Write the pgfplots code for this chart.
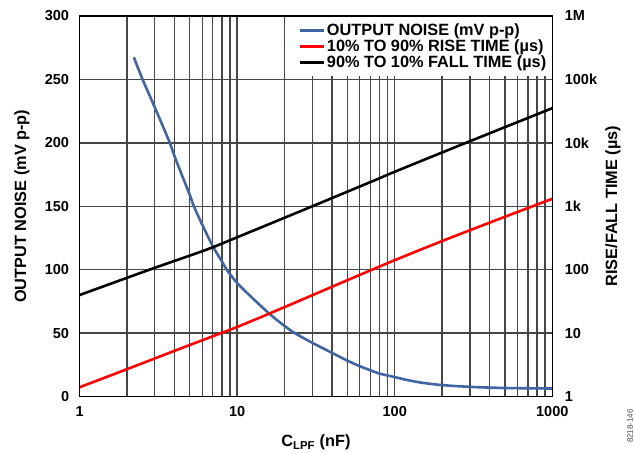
\documentclass[border=0pt]{standalone}
\usepackage{pgfplots}
\pgfplotsset{compat=1.18}
\usepackage{fontspec}
\setmainfont{Liberation Sans}
\definecolor{nblue}{RGB}{63,101,163}
\definecolor{gridc}{RGB}{70,70,70}
\begin{document}
\begin{tikzpicture}
\begin{axis}[
  name=main, scale only axis, width=472.7pt, height=380.5pt,
  xmode=log, xmin=1, xmax=1000, ymin=0, ymax=300,
  xtick={1,10,100,1000}, xticklabels={1,10,100,1000},
  minor xtick={2,3,4,5,6,7,8,9,20,30,40,50,60,70,80,90,200,300,400,500,600,700,800,900},
  ytick={0,50,100,150,200,250,300},
  yticklabels={0,50,100,150,200,250,300},
  xmajorgrids=true, xminorgrids=true, ymajorgrids=true,
  major grid style={gridc, line width=1.4pt},
  minor grid style={gridc, line width=1.4pt},
  major tick length=0pt, minor tick length=0pt,
  axis line style={black, line width=1.6pt},
  ticklabel style={font=\fontsize{14.5}{16}\selectfont\bfseries},
  xticklabel style={yshift=-6pt},
  yticklabel style={xshift=-7pt},
  xlabel={C\textsubscript{LPF} (nF)},
  ylabel={OUTPUT NOISE (mV p-p)},
  label style={font=\fontsize{16.3}{18}\selectfont\bfseries},
  xlabel style={at={(axis description cs:0.5,-0.1327)}, anchor=base},
  ylabel style={at={(axis description cs:-0.1219,0.5)}, anchor=center},
]
\addplot[nblue, line width=2.6pt, smooth] coordinates {
(2.21,267.5) (2.51,250) (3,228) (3.74,200) (4,189.5) (5,159) (5.31,150)
(6,135.5) (7,118.5) (8,106.5) (8.57,100) (9,96.5) (10,89.5) (11.7,81)
(16.1,65) (20,55.6) (23.2,50) (30,42.3) (40,34.4) (50,28.3) (60,23.9)
(70,20.7) (80,18.1) (100,15.3) (120,13.0) (150,10.8) (200,9.0)
(300,7.6) (500,6.7) (1000,6.3)};
\end{axis}
\begin{axis}[
  scale only axis, width=472.7pt, height=380.5pt,
  xmode=log, ymode=log, xmin=1, xmax=1000, ymin=1, ymax=1e6,
  axis x line=none, axis y line*=right,
  ytick={1,10,100,1000,10000,100000,1000000},
  yticklabels={1,10,100,1k,10k,100k,1M},
  minor ytick={},
  major tick length=0pt, minor tick length=0pt,
  axis line style={black, line width=1.6pt},
  ticklabel style={font=\fontsize{14.5}{16}\selectfont\bfseries},
  yticklabel style={xshift=9pt},
  ylabel={RISE/FALL TIME (µs)},
  label style={font=\fontsize{16.3}{18}\selectfont\bfseries},
  ylabel style={at={(axis description cs:1.128,0.5)}, anchor=center, rotate=0},
  legend style={at={(rel axis cs:1,1)}, anchor=north east, xshift=-0.9pt, yshift=-0.9pt,
    fill=white, draw=none, inner xsep=3pt, inner ysep=5pt,
    font=\fontsize{16.3}{17}\selectfont\bfseries, row sep=-1.5pt},
  legend cell align=left,
  legend image code/.code={\draw[#1] (0pt,0pt) -- (24pt,0pt);},
]
\addlegendimage{nblue, line width=2.6pt}
\addlegendentry{OUTPUT NOISE (mV p-p)}
\addplot[red, line width=2.6pt, smooth] coordinates {
(1,1.40) (2,2.70) (5,6.49) (10,12.5) (20,25.7) (50,68.2) (100,141)
(200,283) (500,682) (1000,1312)};
\addlegendentry{10\% TO 90\% RISE TIME (µs)}
\addplot[black, line width=2.6pt, smooth] coordinates {
(1,39.8) (2.78,100) (6.36,206) (10,324) (30,1000) (76,2618) (100,3500)
(300,10600) (1000,35160)};
\addlegendentry{90\% TO 10\% FALL TIME (µs)}
\end{axis}
\node[rotate=90, font=\fontsize{8}{9}\selectfont, text=black!70] at ([xshift=77.7pt,yshift=-29.5pt]main.south east) {8218-146};
\pgfresetboundingbox
\path ([xshift=-79.6pt,yshift=-55.5pt]main.south west) rectangle ([xshift=82.7pt,yshift=16pt]main.north east);
\end{tikzpicture}
\end{document}
